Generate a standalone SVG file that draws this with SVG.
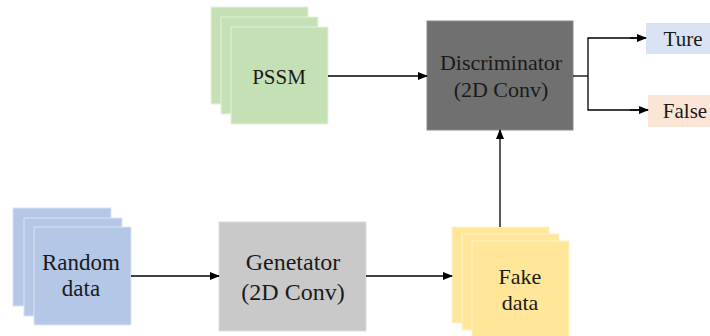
<svg xmlns="http://www.w3.org/2000/svg" width="710" height="336" viewBox="0 0 710 336" font-family="'Liberation Serif', 'DejaVu Serif', serif">
<defs>
<marker id="ah" markerWidth="10" markerHeight="8" refX="9" refY="4" orient="auto" markerUnits="userSpaceOnUse">
<path d="M0,0 L10,4 L0,8 Z" fill="#000"/>
</marker>
<style>
text{font-family:'Liberation Serif','DejaVu Serif',serif;fill:#1a1a1a;text-anchor:middle}
.g{fill:#c5e0b4;stroke:#e6f1df;stroke-width:1}
.b{fill:#b4c7e7;stroke:#dbe4f3;stroke-width:1}
.y{fill:#ffe699;stroke:#fff2cc;stroke-width:1}
.c{stroke:#000;stroke-width:1.3;fill:none}
.t{font-size:21px}
</style>
</defs>
<rect width="710" height="336" fill="#fff"/>
<g id="pssm">
<rect class="g" x="211" y="7" width="97" height="97"/>
<rect class="g" x="221" y="17" width="97" height="97"/>
<rect class="g" x="231" y="27" width="97" height="97"/>
<text class="t" x="279" y="84" font-size="22">PSSM</text>
</g>
<g id="discriminator">
<rect x="427" y="21" width="146" height="109" fill="#707070" stroke="#8a8a8a" stroke-width="1"/>
<text class="t" x="501" y="70" style="font-size:22px">Discriminator</text>
<text class="t" x="501" y="97" style="font-size:22px">(2D Conv)</text>
</g>
<g id="ture">
<rect x="646" y="23" width="64" height="31" fill="#dae3f3"/>
<text class="t" x="683" y="46">Ture</text>
</g>
<g id="false">
<rect x="648" y="95" width="62" height="32" fill="#fbe5d6"/>
<text class="t" x="685" y="118">False</text>
</g>
<g id="random">
<rect class="b" x="13" y="208" width="98" height="98"/>
<rect class="b" x="24" y="218" width="98" height="98"/>
<rect class="b" x="34" y="227" width="97" height="98"/>
<text class="t" x="81" y="270" style="font-size:23px">Random</text>
<text class="t" x="81" y="296" style="font-size:23px">data</text>
</g>
<g id="generator">
<rect x="219" y="222" width="147" height="109" fill="#c9c9c9" stroke="#dcdcdc" stroke-width="1"/>
<text class="t" x="293" y="270" style="font-size:24px">Genetator</text>
<text class="t" x="293" y="300" style="font-size:24px">(2D Conv)</text>
</g>
<g id="fake">
<rect class="y" x="452" y="227" width="97" height="96"/>
<rect class="y" x="462" y="234" width="97" height="96"/>
<rect class="y" x="472" y="241" width="97" height="96"/>
<text class="t" x="520" y="284" style="font-size:22px">Fake</text>
<text class="t" x="520" y="310" style="font-size:22px">data</text>
</g>
<g id="connectors">
<line class="c" x1="328" y1="76" x2="427" y2="76" marker-end="url(#ah)"/>
<line class="c" x1="131" y1="276" x2="219" y2="276" marker-end="url(#ah)"/>
<line class="c" x1="366" y1="276" x2="452" y2="276" marker-end="url(#ah)"/>
<line class="c" x1="500" y1="227" x2="500" y2="130" marker-end="url(#ah)"/>
<line class="c" x1="573" y1="76" x2="588" y2="76"/>
<polyline class="c" points="646,38 588,38 588,110 648,110"/>
<line class="c" x1="630" y1="38" x2="646" y2="38" marker-end="url(#ah)"/>
<line class="c" x1="630" y1="110" x2="648" y2="110" marker-end="url(#ah)"/>
</g>
</svg>
